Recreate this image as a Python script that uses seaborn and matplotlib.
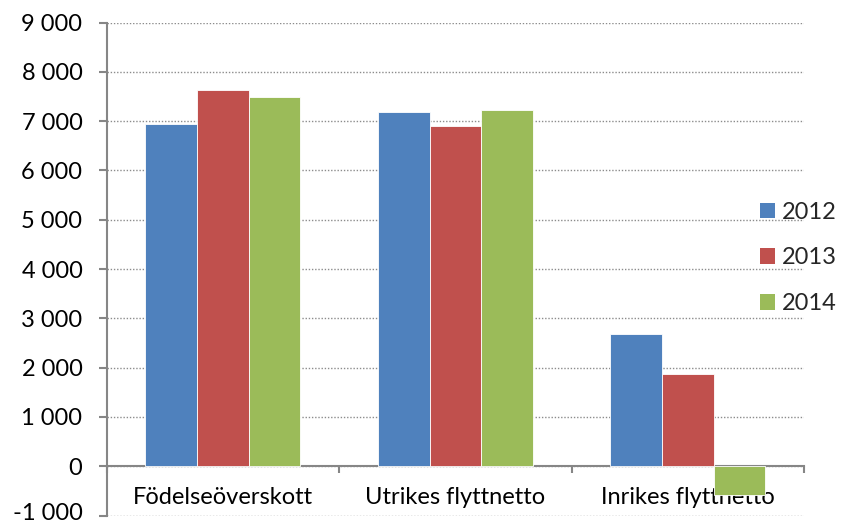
import matplotlib
matplotlib.use("Agg")
import matplotlib.pyplot as plt
import matplotlib.ticker as mticker
import matplotlib.transforms as mtransforms
from matplotlib.patches import Patch
import seaborn as sns
import pandas as pd

categories = ["Födelseöverskott", "Utrikes flyttnetto", "Inrikes flyttnetto"]
years = ["2012", "2013", "2014"]
values_2012 = [6950, 7190, 2680]
values_2013 = [7630, 6900, 1870]
values_2014 = [7480, 7220, -580]
colors = ["#4F81BD", "#C0504D", "#9BBB59"]
yticks = [-1000, 0, 1000, 2000, 3000, 4000, 5000, 6000, 7000, 8000, 9000]

rows = []
for yr, vals in zip(years, [values_2012, values_2013, values_2014]):
    for c, v in zip(categories, vals):
        rows.append({"kategori": c, "år": yr, "värde": v})
df = pd.DataFrame(rows)

sns.set_theme(style="white")
plt.rcParams["font.family"] = ["Lato", "DejaVu Sans"]

FS = 17
fig = plt.figure(figsize=(8.42, 5.26), dpi=100)
ax = fig.add_axes([106.7 / 842, 1 - 515.5 / 526, (804 - 106.7) / 842, (515.5 - 22.5) / 526])

sns.barplot(data=df, x="kategori", y="värde", hue="år", order=categories,
            hue_order=years, palette=colors, width=0.667, ax=ax,
            saturation=1, legend=False, edgecolor="white", linewidth=0.6, zorder=3)

ax.set_xlim(-0.5, 2.5)
ax.set_ylim(-1000, 9000)
ax.set_yticks(yticks)
ax.yaxis.set_major_formatter(mticker.FuncFormatter(
    lambda v, p: f"{int(v):,}".replace(",", " ")))
ax.grid(axis="y", color="#8c8c8c", linestyle=(0, (1, 1.3)), linewidth=1.0, zorder=0)
ax.grid(axis="x", visible=False)

for s in ["top", "right"]:
    ax.spines[s].set_visible(False)
ax.spines["left"].set_color("#868686")
ax.spines["left"].set_linewidth(1.5)
ax.spines["bottom"].set_color("#868686")
ax.spines["bottom"].set_linewidth(1.5)
ax.spines["bottom"].set_position(("data", 0))

ax.tick_params(axis="y", which="major", left=True, length=5.5, width=1.5,
               color="#868686", labelsize=FS, pad=12, labelcolor="black")
ticks = ax.yaxis.get_major_ticks()
for t in ticks:
    t.label1.set_verticalalignment("center_baseline")
# nudge the lowest label slightly up so it stays inside the canvas
ticks[0].label1.set_transform(ticks[0].label1.get_transform() +
                              mtransforms.ScaledTranslation(0, 3 / 72, fig.dpi_scale_trans))

ax.set_xticks([-0.5, 0.5, 1.5, 2.5])
ax.set_xticklabels([])
ax.tick_params(axis="x", which="major", bottom=True, length=5, width=1.5,
               color="#868686", direction="out")
ax.set_xticks([0, 1, 2], minor=True)
ax.set_xticklabels(categories, minor=True)
ax.tick_params(axis="x", which="minor", bottom=True, length=0, labelsize=FS,
               pad=15, labelcolor="black")
ax.set_xlabel("")
ax.set_ylabel("")

handles = [Patch(facecolor=c, edgecolor="none") for c in colors]
fig.legend(handles, years, loc="center left", bbox_to_anchor=(760 / 842, 1 - 258 / 526),
           frameon=False, fontsize=FS, borderpad=0, borderaxespad=0,
           handlelength=0.64, handleheight=0.64, handletextpad=0.3, labelspacing=1.05)

fig.savefig("out.png", dpi=100)
